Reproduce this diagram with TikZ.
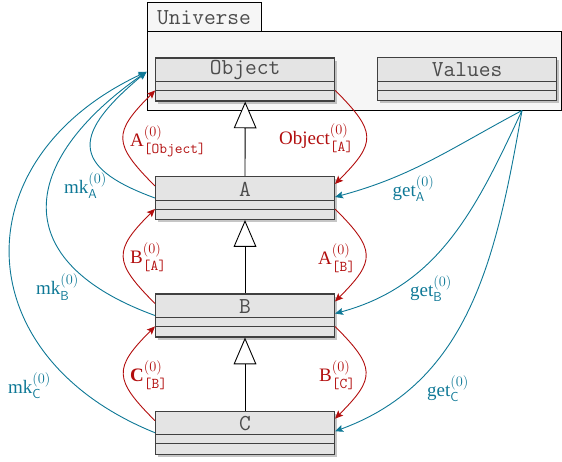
\documentclass[tikz,border=0pt]{standalone}
\usepackage{amsmath}
\usepackage{fontspec}
\setmainfont{Liberation Serif}
\usetikzlibrary{arrows.meta,shadows}
\DeclareMathSizes{19}{19}{15}{12}
\definecolor{ctorred}{RGB}{178,14,14}
\definecolor{accblue}{RGB}{14,120,150}
\definecolor{classgray}{RGB}{228,228,228}
\definecolor{univgray}{RGB}{246,246,246}
\newcommand{\ttsub}[1]{\text{\fontsize{15}{15}\selectfont\ttfamily #1}}
\newcommand{\sfsub}[1]{\text{\fontsize{13}{13}\selectfont\sffamily #1}}

\begin{document}
\begin{tikzpicture}[x=1pt,y=1pt,
  classbox/.style={draw=black!75,line width=1.1pt,fill=classgray,minimum width=179pt,minimum height=43pt,inner sep=0pt,
    drop shadow={shadow xshift=2.5pt,shadow yshift=-2.5pt,opacity=0.45}},
  classname/.style={font=\fontsize{22.8}{26}\selectfont\ttfamily,text=black!70,inner sep=0pt},
  compline/.style={draw=black!75,line width=0.9pt},
  univbox/.style={draw=black,line width=0.9pt,fill=univgray,inner sep=0pt},
  inherit/.style={line width=0.9pt,-{Triangle[open,width=22.7pt,length=26.7pt,fill=white]}},
  ctorarrow/.style={ctorred,line width=0.9pt,-{Stealth[length=8pt,width=7pt,inset=1.5pt]}},
  accarrow/.style={accblue,line width=0.9pt,-{Stealth[length=8pt,width=7pt,inset=1.5pt]}},
  ctorlbl/.style={text=ctorred,font=\fontsize{19}{23}\selectfont,inner sep=0pt,anchor=base west},
  acclbl/.style={text=accblue,font=\fontsize{19}{23}\selectfont,inner sep=0pt,anchor=base west}]
\useasboundingbox (0,0) rectangle (562,-461);
\node[univbox,minimum width=114pt,minimum height=29pt] (univtab) at (204,-16.5) {};
\node[classname] (univtab-name) at ([yshift=-1pt]univtab.center) {Universe};
\node[univbox,minimum width=414.5pt,minimum height=79.5pt] (univ) at (354.25,-70.75) {};
\coordinate (hub) at (522,-110.5);
\node[classbox] (Object) at (245.2,-79.5) {};
\node[classname] (Object-name) at ([yshift=-13pt]Object.north) {Object};
\draw[compline] ([yshift=-24pt]Object.north west) -- ([yshift=-24pt]Object.north east);
\draw[compline] ([yshift=-33pt]Object.north west) -- ([yshift=-33pt]Object.north east);
\node[classbox] (Values) at (467.2,-79) {};
\node[classname] (Values-name) at ([yshift=-13pt]Values.north) {Values};
\draw[compline] ([yshift=-24pt]Values.north west) -- ([yshift=-24pt]Values.north east);
\draw[compline] ([yshift=-33pt]Values.north west) -- ([yshift=-33pt]Values.north east);
\node[classbox] (A) at (245,-198) {};
\node[classname] (A-name) at ([yshift=-13pt]A.north) {A};
\draw[compline] ([yshift=-24pt]A.north west) -- ([yshift=-24pt]A.north east);
\draw[compline] ([yshift=-33pt]A.north west) -- ([yshift=-33pt]A.north east);
\node[classbox] (B) at (245,-315.5) {};
\node[classname] (B-name) at ([yshift=-13pt]B.north) {B};
\draw[compline] ([yshift=-24pt]B.north west) -- ([yshift=-24pt]B.north east);
\draw[compline] ([yshift=-33pt]B.north west) -- ([yshift=-33pt]B.north east);
\node[classbox] (C) at (245,-432.7) {};
\node[classname] (C-name) at ([yshift=-13pt]C.north) {C};
\draw[compline] ([yshift=-24pt]C.north west) -- ([yshift=-24pt]C.north east);
\draw[compline] ([yshift=-33pt]C.north west) -- ([yshift=-33pt]C.north east);
\draw[inherit] (A.north) -- (Object.south);
\draw[inherit] (B.north) -- (A.south);
\draw[inherit] (C.north) -- (B.south);
\draw[ctorarrow] ([yshift=-10pt]A.north west) to[out=135,in=225,looseness=1.6] ([yshift=-33pt]Object.north west);
\draw[ctorarrow] ([yshift=-10pt]B.north west) to[out=135,in=225,looseness=1.6] ([yshift=-33pt]A.north west);
\draw[ctorarrow] ([yshift=-10pt]C.north west) to[out=135,in=225,looseness=1.6] ([yshift=-33pt]B.north west);
\draw[ctorarrow] ([yshift=-33pt]Object.north east) to[out=-45,in=45,looseness=1.6] ([yshift=-8pt]A.north east);
\draw[ctorarrow] ([yshift=-33pt]A.north east) to[out=-45,in=45,looseness=1.6] ([yshift=-8pt]B.north east);
\draw[ctorarrow] ([yshift=-33pt]B.north east) to[out=-45,in=45,looseness=1.6] ([yshift=-8pt]C.north east);
\draw[accarrow] (A.west) to[out=160,in=220,looseness=1.9] ([yshift=-1pt]univ.west);
\draw[accarrow] (B.west) to[out=160,in=215,looseness=1.65] ([yshift=-1pt]univ.west);
\draw[accarrow] (C.west) to[out=158,in=205,looseness=1.45] ([yshift=-1pt]univ.west);
\draw[accarrow] (hub) to[out=208,in=15] ([yshift=1pt]A.east);
\draw[accarrow] (hub) to[out=245,in=15] ([yshift=2pt]B.east);
\draw[accarrow] (hub) to[out=260,in=20] ([yshift=1.5pt]C.east);
\node[ctorlbl] (lbl-AObject) at (130,-146.5) {$\mathrm{A}^{(0)}_{\ttsub{[Object]}}$};
\node[ctorlbl] (lbl-ObjectA) at (279,-144.5) {$\mathrm{Object}^{(0)}_{\ttsub{[A]}}$};
\node[ctorlbl] (lbl-BA) at (130,-263.5) {$\mathrm{B}^{(0)}_{\ttsub{[A]}}$};
\node[ctorlbl] (lbl-AB) at (318,-264) {$\mathrm{A}^{(0)}_{\ttsub{[B]}}$};
\node[ctorlbl] (lbl-CB) at (130,-381.5) {$\mathbf{C}^{(0)}_{\ttsub{[B]}}$};
\node[ctorlbl] (lbl-BC) at (319,-381.5) {$\mathrm{B}^{(0)}_{\ttsub{[C]}}$};
\node[acclbl] (lbl-mkA) at (64,-193) {$\mathrm{mk}^{(0)}_{\sfsub{A}}$};
\node[acclbl] (lbl-mkB) at (36,-294.5) {$\mathrm{mk}^{(0)}_{\sfsub{B}}$};
\node[acclbl] (lbl-mkC) at (8,-393) {$\mathrm{mk}^{(0)}_{\sfsub{C}}$};
\node[acclbl] (lbl-getA) at (392.5,-196) {$\mathrm{get}^{(0)}_{\sfsub{A}}$};
\node[acclbl] (lbl-getB) at (410,-296) {$\mathrm{get}^{(0)}_{\sfsub{B}}$};
\node[acclbl] (lbl-getC) at (427,-396) {$\mathrm{get}^{(0)}_{\sfsub{C}}$};
\end{tikzpicture}
\end{document}
